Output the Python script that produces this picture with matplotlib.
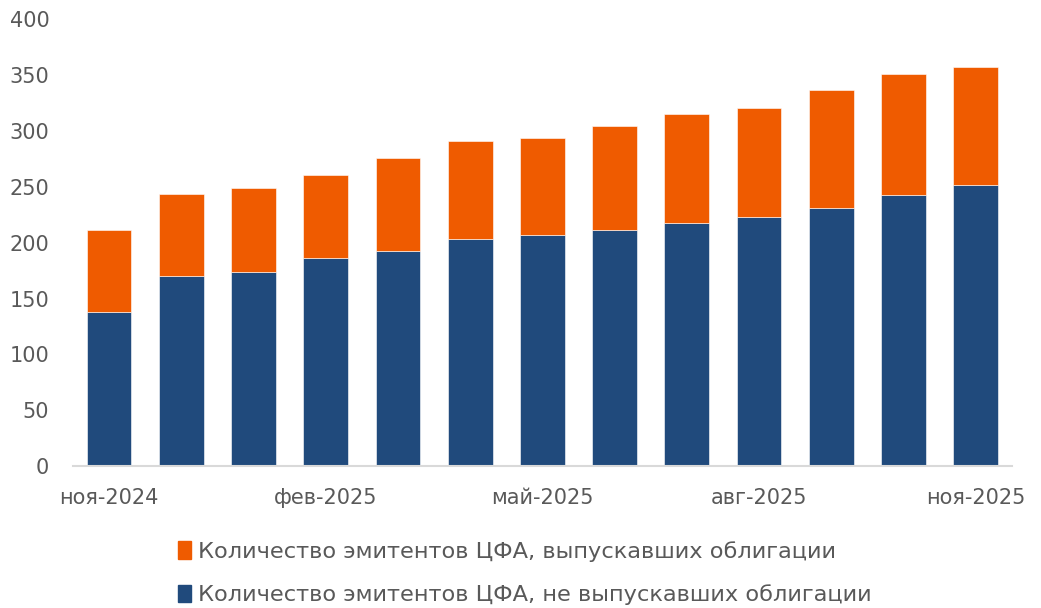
import matplotlib.pyplot as plt
import numpy as np
from matplotlib.patches import Patch

months = ["ноя-2024", "дек-2024", "янв-2025", "фев-2025", "мар-2025", "апр-2025", "май-2025",
          "июн-2025", "июл-2025", "авг-2025", "сен-2025", "окт-2025", "ноя-2025"]
no_bonds = [138, 170, 174, 186, 193, 203, 207, 211, 218, 223, 231, 243, 252]
total = [211, 244, 249, 261, 276, 291, 294, 305, 315, 321, 337, 351, 357]
with_bonds = [t - b for t, b in zip(total, no_bonds)]

label_with = "Количество эмитентов ЦФА, выпускавших облигации"
label_without = "Количество эмитентов ЦФА, не выпускавших облигации"

BLUE = "#204A7C"
ORANGE = "#EF5B00"
GREY = "#595959"

plt.rcParams["font.family"] = ["DejaVu Sans"]

fig = plt.figure(figsize=(10.41, 6.08), dpi=100)
ax = fig.add_axes([0.070, 0.2336, 0.902, 0.7344])

x = np.arange(len(months))
ax.bar(x, no_bonds, width=0.62, color=BLUE, edgecolor="white", linewidth=0.4)
ax.bar(x, with_bonds, bottom=no_bonds, width=0.62, color=ORANGE, edgecolor="white", linewidth=0.4)

ax.set_xlim(-0.5, len(months) - 0.5)
ax.set_ylim(0, 400)
ax.set_yticks(range(0, 401, 50))
ax.set_xticks(x[::3])
ax.set_xticklabels(months[::3])
ax.tick_params(axis="both", length=0, labelsize=15, colors=GREY)
ax.tick_params(axis="x", pad=16)
ax.tick_params(axis="y", pad=17)
for s in ["top", "right", "left"]:
    ax.spines[s].set_visible(False)
ax.spines["bottom"].set_color("#D9D9D9")
ax.spines["bottom"].set_linewidth(1.5)

handles = [Patch(color=ORANGE), Patch(color=BLUE)]
fig.legend(handles, [label_with, label_without], loc="center", bbox_to_anchor=(0.504, 0.0576),
           ncol=1, frameon=False, fontsize=16.2, labelcolor=GREY, handlelength=0.6, handleheight=0.8,
           handletextpad=0.3, labelspacing=1.0)

fig.savefig("out.png", dpi=100)
